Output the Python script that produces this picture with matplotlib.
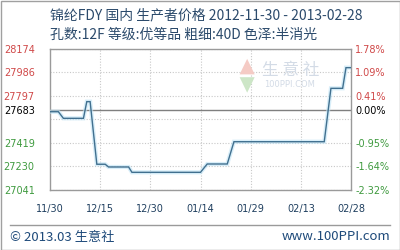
import matplotlib
matplotlib.use("Agg")
import matplotlib.pyplot as plt
from matplotlib.patches import Rectangle, Polygon
from matplotlib.lines import Line2D

# ---- data ----
days = [0, 2.5, 4, 10, 11, 12, 14, 16.5, 17.5, 23.5, 24.5, 45, 47, 53, 55, 82, 84, 87.5, 88.5, 90]
prices = [27670, 27670, 27617, 27617, 27751, 27751, 27248, 27248, 27226, 27226,
          27183, 27183, 27250, 27250, 27429, 27429, 27858, 27858, 28024, 28024]
base_price = 27683
y_ticks = [28174, 27986, 27797, 27683, 27419, 27230, 27041]
y_grid_extra = [27608]
pct_labels = ["1.78%", "1.09%", "0.41%", "0.00%", "-0.95%", "-1.64%", "-2.32%"]
x_tick_days = [0, 15, 30, 45, 60, 75, 90]
x_tick_labels = ["11/30", "12/15", "12/30", "01/14", "01/29", "02/13", "02/28"]
title1 = "锦纶FDY 国内 生产者价格 2012-11-30 - 2013-02-28"
title2 = "孔数:12F 等级:优等品 粗细:40D 色泽:半消光"
footer_left = "© 2013.03 生意社"
footer_right = "www.100PPI.com"

CJK = ["Noto Sans CJK SC", "DejaVu Sans"]
W, H = 400, 250
fig = plt.figure(figsize=(4, 2.5), dpi=100)
fig.patch.set_facecolor("white")

# outer border
fig.add_artist(Rectangle((0.5 / W, 0.5 / H), 1 - 1.0 / W, 1 - 1.0 / H, transform=fig.transFigure,
                         fill=False, edgecolor="#a0a0a0", lw=1))

ax = fig.add_axes([50 / W, 1 - 190 / H, 301 / W, 141 / H])
ax.set_xlim(0, 90)
ax.set_ylim(27041, 28174)

# grid
for v in y_ticks + y_grid_extra:
    if v == base_price:
        continue
    ax.axhline(v, color="#c8c8c8", lw=0.8, ls=(0, (1, 1.5)), zorder=1)
for d in x_tick_days[1:-1]:
    ax.axvline(d, color="#c8c8c8", lw=0.8, ls=(0, (1, 1.5)), zorder=1)
ax.axhline(base_price, color="#7f7f7f", lw=1.0, zorder=2)

# watermark
ax.text(0.8, 0.85, "生 意 社", transform=ax.transAxes, fontsize=12, color="#d3dbe6",
        family=CJK, ha="center", va="center", zorder=1)
ax.text(0.795, 0.745, "100PPI.COM", transform=ax.transAxes, fontsize=6, color="#d3dbe6",
        family="DejaVu Sans", ha="center", va="center", zorder=1)
tri_up = Polygon([(0.63, 0.82), (0.655, 0.93), (0.68, 0.82)], closed=True, transform=ax.transAxes,
                 facecolor="#f5cbc5", edgecolor="none", zorder=1)
tri_dn = Polygon([(0.63, 0.80), (0.655, 0.69), (0.68, 0.80)], closed=True, transform=ax.transAxes,
                 facecolor="#cde6c7", edgecolor="none", zorder=1)
ax.add_patch(tri_up)
ax.add_patch(tri_dn)

# line
ax.plot(days, prices, color="#bfe3f5", lw=3.0, alpha=0.6, zorder=3, solid_joinstyle="miter")
ax.plot(days, prices, color="#41708f", lw=1.0, zorder=4, solid_joinstyle="miter")

for s in ax.spines.values():
    s.set_color("#9a9a9a")
    s.set_linewidth(1.0)

ax.set_yticks(y_ticks)
ax.set_yticklabels([str(v) for v in y_ticks])
ax.tick_params(axis="y", length=0, pad=11, labelsize=7)
for lbl, v in zip(ax.get_yticklabels(), y_ticks):
    lbl.set_color("#d04848" if v > base_price else ("#000000" if v == base_price else "#3f9a3f"))
    lbl.set_family("DejaVu Sans")

ax2 = ax.twinx()
ax2.set_ylim(27041, 28174)
ax2.set_yticks(y_ticks)
ax2.set_yticklabels(pct_labels)
ax2.tick_params(axis="y", length=0, pad=3, labelsize=7)
for lbl, v in zip(ax2.get_yticklabels(), y_ticks):
    lbl.set_color("#d04848" if v > base_price else ("#000000" if v == base_price else "#3f9a3f"))
    lbl.set_family("DejaVu Sans")
for s in ax2.spines.values():
    s.set_visible(False)

ax.set_xticks(x_tick_days)
ax.set_xticklabels(x_tick_labels)
ax.tick_params(axis="x", length=0, pad=10, labelsize=7, labelcolor="#1f3f5f")

# titles
fig.text(50 / W, 1 - 15 / H, title1, fontsize=10, color="#2b4a6b", family=CJK, ha="left", va="center")
fig.text(50 / W, 1 - 35 / H, title2, fontsize=10, color="#2b4a6b", family=CJK, ha="left", va="center")

# footer
fig.add_artist(Line2D([10 / W, 390 / W], [1 - 225 / H, 1 - 225 / H], transform=fig.transFigure,
                      color="#9a9a9a", lw=1))
fig.text(10 / W, 1 - 237 / H, footer_left, fontsize=9.5, color="#1e4a7a", family=CJK, ha="left", va="center")
fig.text(390 / W, 1 - 237 / H, footer_right, fontsize=9.5, color="#1e4a7a", family=CJK, ha="right", va="center")

fig.savefig("out.png", dpi=100)
